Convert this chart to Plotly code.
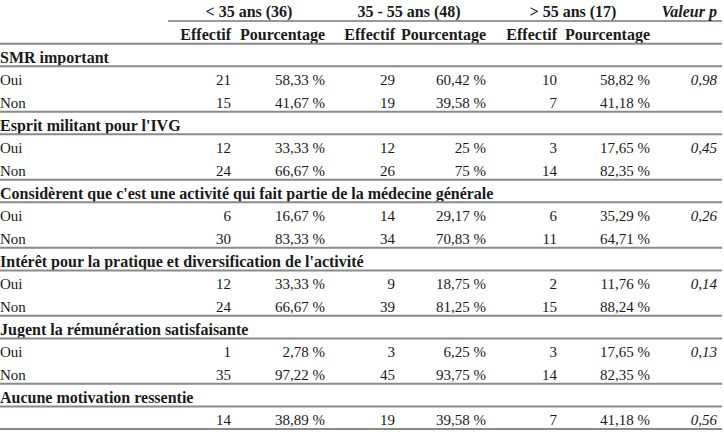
import plotly.graph_objects as go

# ---------------- data ----------------
groups = ["< 35 ans (36)", "35 - 55 ans (48)", "> 55 ans (17)"]
pvalue_header = "Valeur p"
sub_headers = ["Effectif", "Pourcentage"]

sections = [
    "SMR important",
    "Esprit militant pour l'IVG",
    "Considèrent que c'est une activité qui fait partie de la médecine générale",
    "Intérêt pour la pratique et diversification de l'activité",
    "Jugent la rémunération satisfaisante",
    "Aucune motivation ressentie",
]
responses = [["Oui", "Non"], ["Oui", "Non"], ["Oui", "Non"], ["Oui", "Non"], ["Oui", "Non"], [""]]

eff_lt35 = [[21, 15], [12, 24], [6, 30], [12, 24], [1, 35], [14]]
pct_lt35 = [[58.33, 41.67], [33.33, 66.67], [16.67, 83.33], [33.33, 66.67], [2.78, 97.22], [38.89]]
eff_35_55 = [[29, 19], [12, 26], [14, 34], [9, 39], [3, 45], [19]]
pct_35_55 = [[60.42, 39.58], [25, 75], [29.17, 70.83], [18.75, 81.25], [6.25, 93.75], [39.58]]
eff_gt55 = [[10, 7], [3, 14], [6, 11], [2, 15], [3, 14], [7]]
pct_gt55 = [[58.82, 41.18], [17.65, 82.35], [35.29, 64.71], [11.76, 88.24], [17.65, 82.35], [41.18]]
p_values = [0.98, 0.45, 0.26, 0.14, 0.13, 0.56]

# ---------------- helpers ----------------
def fr_num(v):
    if float(v).is_integer():
        return f"{int(v)}"
    return f"{v:.2f}".replace(".", ",")

def fr_pct(v):
    return fr_num(v) + " %"

FONT = "Liberation Serif"
SIZE_B = 16
SIZE_R = 15
COLOR = "#1a1a1a"
LINE_GRAY = "#8a8a8a"

# layout geometry (pixels)
W, H = 724, 446
ROW0_Y = 13.3
ROW_H = 22.67
X_LABEL = 0
X_EFF = [231, 395, 557]
X_PCT = [325, 486, 650]
X_P = 717
X_GROUP = [249, 409, 573]

# build rows
row = 2
label_rows = {"y": [], "t": [], "bold": []}
cells = {k: {"x": [], "y": [], "t": []} for k in ["num", "p"]}
section_lines = []
for si, sec in enumerate(sections):
    label_rows["y"].append(row); label_rows["t"].append(sec); label_rows["bold"].append(True)
    section_lines.append(row)
    row += 1
    for ri, resp in enumerate(responses[si]):
        label_rows["y"].append(row); label_rows["t"].append(resp); label_rows["bold"].append(False)
        effs = [eff_lt35[si][ri], eff_35_55[si][ri], eff_gt55[si][ri]]
        pcts = [pct_lt35[si][ri], pct_35_55[si][ri], pct_gt55[si][ri]]
        for g in range(3):
            cells["num"]["x"] += [X_EFF[g], X_PCT[g]]
            cells["num"]["y"] += [row, row]
            cells["num"]["t"] += [str(effs[g]), fr_pct(pcts[g])]
        if ri == 0:
            cells["p"]["x"].append(X_P); cells["p"]["y"].append(row)
            cells["p"]["t"].append(fr_num(p_values[si]))
        row += 1
    section_lines.append(row - 1)

def y_row_range():
    top = -ROW0_Y / ROW_H
    bottom = (H - ROW0_Y) / ROW_H
    return [bottom, top]

fig = go.Figure()

def add_text(xs, ys, texts, pos, bold=False, italic=False):
    fig.add_trace(go.Scatter(
        x=xs, y=ys, text=[(f"<b>{t}</b>" if bold else t) for t in texts],
        mode="text", textposition=pos, hoverinfo="skip", cliponaxis=False,
        textfont=dict(family=FONT, size=SIZE_B if bold else SIZE_R, color=COLOR,
                      style="italic" if italic else "normal"),
        showlegend=False,
    ))

# group headers
add_text(X_GROUP, [0] * 3, groups, "middle center", bold=True)
add_text([X_P], [0], [pvalue_header], "middle left", bold=True, italic=True)
# sub headers
add_text(X_EFF + X_PCT, [1] * 6, [sub_headers[0]] * 3 + [sub_headers[1]] * 3, "middle left", bold=True)

# labels
by = [y for y, b in zip(label_rows["y"], label_rows["bold"]) if b]
bt = [t for t, b in zip(label_rows["t"], label_rows["bold"]) if b]
ny = [y for y, b in zip(label_rows["y"], label_rows["bold"]) if not b]
nt = [t for t, b in zip(label_rows["t"], label_rows["bold"]) if not b]
add_text([X_LABEL] * len(by), by, bt, "middle right", bold=True)
add_text([X_LABEL] * len(ny), ny, nt, "middle right")
add_text(cells["num"]["x"], cells["num"]["y"], cells["num"]["t"], "middle left")
add_text(cells["p"]["x"], cells["p"]["y"], cells["p"]["t"], "middle left", italic=True)

# lines
OFF = 0.34
fig.add_shape(type="line", x0=168, x1=722, y0=OFF, y1=OFF,
              xref="x", yref="y", line=dict(color="#333333", width=1))
for r in [1] + section_lines:
    fig.add_shape(type="line", x0=0, x1=722, y0=r + OFF, y1=r + OFF,
                  xref="x", yref="y", line=dict(color=LINE_GRAY, width=2))

fig.update_layout(
    width=W, height=H,
    margin=dict(l=0, r=0, t=0, b=0),
    paper_bgcolor="white", plot_bgcolor="white",
    xaxis=dict(range=[0, W], visible=False, fixedrange=True),
    yaxis=dict(range=y_row_range(), visible=False, fixedrange=True),
)

fig.write_html("out.html", post_script="document.body.style.margin='0';",
               config={"displayModeBar": False})
